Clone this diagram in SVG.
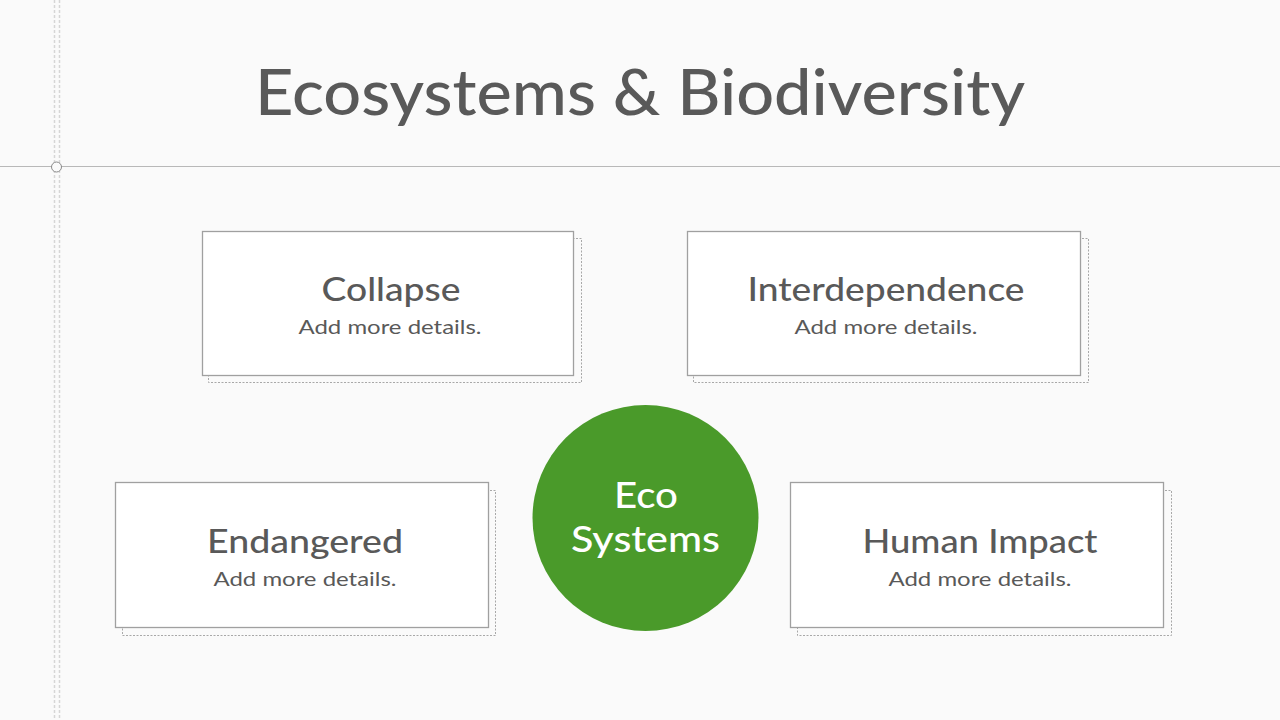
<svg xmlns="http://www.w3.org/2000/svg" width="1280" height="720" viewBox="0 0 1280 720">
<style>
.bg{fill:#fafafa}
.guide{stroke:#d6d6d6;stroke-width:1.5;stroke-dasharray:3 2;fill:none}
.box{fill:#ffffff;stroke:#a0a0a0;stroke-width:1.3}
.shadow{fill:none;stroke:#a8a8a8;stroke-width:1;stroke-dasharray:2 1.5}
.t{font-family:Lato,"Open Sans",sans-serif;fill:#595959;text-anchor:middle}
.h{font-size:33px;font-weight:500}
.s{font-size:20px}
.c{font-family:Lato,"Open Sans",sans-serif;fill:#ffffff;text-anchor:middle;font-size:37px;font-weight:500}
</style>
<rect class="bg" x="0" y="0" width="1280" height="720"/>
<line class="guide" x1="54.5" y1="0" x2="54.5" y2="720"/>
<line class="guide" x1="59.5" y1="0" x2="59.5" y2="720"/>
<line x1="0" y1="166.5" x2="1280" y2="166.5" stroke="#b8b8b8" stroke-width="1"/>
<circle cx="56.5" cy="167" r="5" fill="#fafafa" stroke="#8a8a8a" stroke-width="1"/>
<text class="t" x="640" y="115" font-size="64" font-weight="500" textLength="770" lengthAdjust="spacingAndGlyphs">Ecosystems &amp; Biodiversity</text>
<g id="connectors"></g>
<g id="collapse">
<rect class="shadow" x="208.5" y="238.5" width="373" height="144"/>
<rect class="box" x="202.5" y="231.5" width="371" height="144"/>
<text class="t h" x="391" y="301" textLength="139" lengthAdjust="spacingAndGlyphs">Collapse</text>
<text class="t s" x="390" y="334" textLength="183" lengthAdjust="spacingAndGlyphs">Add more details.</text>
</g>
<g id="interdependence">
<rect class="shadow" x="693.5" y="238.5" width="395" height="144"/>
<rect class="box" x="687.5" y="231.5" width="393" height="144"/>
<text class="t h" x="886" y="301" textLength="277" lengthAdjust="spacingAndGlyphs">Interdependence</text>
<text class="t s" x="886" y="334" textLength="183" lengthAdjust="spacingAndGlyphs">Add more details.</text>
</g>
<g id="endangered">
<rect class="shadow" x="122.5" y="490.5" width="373" height="145"/>
<rect class="box" x="115.5" y="482.5" width="373" height="145"/>
<text class="t h" x="305" y="553" textLength="196" lengthAdjust="spacingAndGlyphs">Endangered</text>
<text class="t s" x="305" y="586" textLength="183" lengthAdjust="spacingAndGlyphs">Add more details.</text>
</g>
<g id="human-impact">
<rect class="shadow" x="797.5" y="490.5" width="374" height="145"/>
<rect class="box" x="790.5" y="482.5" width="373" height="145"/>
<text class="t h" x="980" y="553" textLength="235" lengthAdjust="spacingAndGlyphs">Human Impact</text>
<text class="t s" x="980" y="586" textLength="183" lengthAdjust="spacingAndGlyphs">Add more details.</text>
</g>
<g id="ecosystems">
<circle cx="645.5" cy="518" r="113" fill="#4a9a2a"/>
<text class="c" x="646" y="508" textLength="64" lengthAdjust="spacingAndGlyphs">Eco</text>
<text class="c" x="645.5" y="552" textLength="149" lengthAdjust="spacingAndGlyphs">Systems</text>
</g>
</svg>
